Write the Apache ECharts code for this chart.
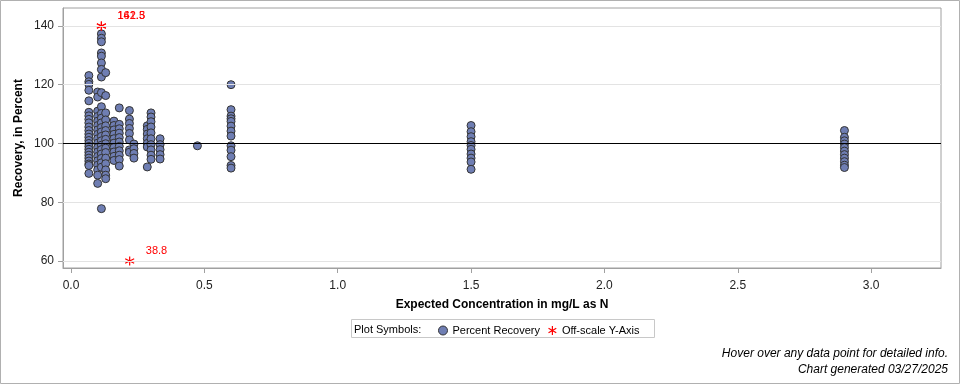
<!DOCTYPE html>
<html><head><meta charset="utf-8">
<script src="https://cdn.jsdelivr.net/npm/echarts@6/dist/echarts.min.js"></script>
<style>html,body{margin:0;padding:0;background:#fff}#c{width:960px;height:384px}</style>
</head><body><div id="c"></div>
<script>
// Expected concentrations (mg/L as N), one per column of points
const concentrations = [0.067, 0.1, 0.114, 0.13, 0.161, 0.181, 0.219, 0.236, 0.286, 0.3, 0.334, 0.474, 0.6, 1.5, 2.9];
const rec067 = [123.1, 121.0, 120.1, 118.1, 114.5, 110.6, 109.4, 108.2, 107.0, 105.6, 104.4, 103.2, 102.1, 101.0, 100.0, 99.0, 98.0, 97.0, 96.0, 95.0, 94.0, 93.0, 92.5, 89.8];
const rec100 = [117.5, 115.8, 111.0, 109.2, 107.6, 106.1, 104.6, 103.1, 101.6, 100.1, 98.6, 97.1, 95.6, 94.1, 92.6, 91.0, 89.2, 86.4];
const rec114 = [137.3, 135.8, 134.6, 130.8, 129.7, 127.4, 125.2, 122.6, 117.3, 112.5, 110.2, 108.6, 107.0, 105.4, 103.9, 102.4, 100.9, 99.4, 97.9, 96.4, 94.9, 93.4, 91.9, 77.8];
const rec130 = [124.1, 116.3, 110.4, 108.0, 106.0, 104.4, 102.9, 101.4, 99.9, 98.4, 96.9, 95.0, 93.1, 91.0, 89.2, 88.0];
const rec161 = [107.6, 106.1, 104.6, 103.1, 101.6, 100.1, 98.6, 97.1, 95.6, 94.2];
const rec181 = [112.1, 106.5, 105.0, 103.5, 102.0, 100.5, 99.0, 97.5, 96.0, 94.5, 92.3];
const rec219 = [111.2, 108.3, 106.8, 105.1, 103.4, 101.2, 97.8, 97.0];
const rec236 = [99.8, 98.2, 96.6, 95.0];
const rec286 = [106.0, 104.8, 103.2, 101.6, 100.0, 98.8, 92.0];
const rec300 = [110.4, 109.0, 107.4, 105.6, 103.6, 101.6, 99.6, 97.8, 96.0, 94.6];
const rec334 = [101.6, 99.6, 97.9, 96.2, 94.7];
const rec474 = [99.2];
const rec600 = [120.0, 111.5, 109.3, 108.4, 107.5, 105.9, 104.2, 102.5, 99.2, 97.7, 95.5, 92.5, 91.6];
const rec1500 = [106.1, 104.0, 102.3, 100.6, 99.3, 98.0, 96.4, 95.0, 93.7, 91.2];
const rec2900 = [104.4, 102.1, 100.9, 99.8, 98.6, 97.4, 96.2, 95.0, 93.8, 92.6, 91.8];
const recoveries = [rec067, rec100, rec114, rec130, rec161, rec181, rec219, rec236, rec286, rec300, rec334, rec474, rec600, rec1500, rec2900];

// Off-scale points: concentration, plotted position, actual value
const offX = [0.114, 0.114, 0.22];
const offPlotY = [140, 140, 60];
const offActual = ['142.3', '161.5', '38.8'];

const xTicks = [0, 0.5, 1.0, 1.5, 2.0, 2.5, 3.0];
const yTicks = [60, 80, 100, 120, 140];
const gridLineValues = [60, 80, 120, 140];
const referenceValue = 100;

const points = [];
concentrations.forEach((c, i) => recoveries[i].forEach(v => points.push([c, v])));
const offPoints = offX.map((x, i) => ({value: [x, offPlotY[i]], label: {formatter: offActual[i]}}));

const asterisk = 'path://M5,0L5,10M0.7,2.5L9.3,7.5M0.7,7.5L9.3,2.5';
const FONT = '"Liberation Sans", Arial, sans-serif';

const chart = echarts.init(document.getElementById('c'), null, {renderer: 'canvas'});
chart.setOption({
  animation: false,
  textStyle: {fontFamily: FONT},
  grid: {left: 63, right: 19, top: 8, bottom: 116, show: true, borderColor: '#a0a0a0', borderWidth: 1},
  xAxis: {
    type: 'value', min: -0.03, max: 3.262,
    name: 'Expected Concentration in mg/L as N', nameLocation: 'middle', nameGap: 31,
    nameTextStyle: {fontFamily: FONT, fontSize: 12, fontWeight: 'bold', color: '#000'},
    axisLine: {show: true, onZero: false, lineStyle: {color: '#a0a0a0'}},
    axisTick: {show: true, customValues: xTicks, length: 5, lineStyle: {color: '#a0a0a0'}},
    axisLabel: {customValues: xTicks, formatter: v => Number(v).toFixed(1), margin: 12, fontSize: 12, color: '#222', fontFamily: FONT},
    splitLine: {show: false}
  },
  yAxis: {
    type: 'value', min: 57.6, max: 146.1,
    name: 'Recovery, in Percent', nameLocation: 'middle', nameGap: 38, nameMoveOverlap: false,
    nameTextStyle: {fontFamily: FONT, fontSize: 12, fontWeight: 'bold', color: '#000'},
    axisLine: {show: true, onZero: false, lineStyle: {color: '#a0a0a0'}},
    axisTick: {show: true, customValues: yTicks, length: 5, lineStyle: {color: '#a0a0a0'}},
    axisLabel: {customValues: yTicks, margin: 9, fontSize: 12, color: '#222', fontFamily: FONT},
    splitLine: {show: false}
  },
  legend: {
    left: 438, top: 325, padding: 0, itemWidth: 9, itemHeight: 9, itemGap: 8,
    textStyle: {fontSize: 11, color: '#000', fontFamily: FONT},
    data: [
      {name: 'Percent Recovery', icon: 'circle', itemStyle: {color: '#6F7EB3', borderColor: '#333', borderWidth: 1}},
      {name: 'Off-scale Y-Axis', icon: asterisk, itemStyle: {color: 'rgba(0,0,0,0)', borderColor: '#ff0000', borderWidth: 1.2}}
    ]
  },
  series: [
    {
      type: 'scatter', name: 'refs', data: [], z: 1, silent: true,
      markLine: {
        silent: true, symbol: 'none', label: {show: false},
        data: gridLineValues.map(v => ({yAxis: v, lineStyle: {color: '#e3e3e3', width: 1, type: 'solid'}}))
          .concat([{yAxis: referenceValue, lineStyle: {color: '#000', width: 1, type: 'solid'}}])
      }
    },
    {
      type: 'scatter', name: 'Percent Recovery', data: points, z: 3,
      symbol: 'circle', symbolSize: 8,
      itemStyle: {color: '#6F7EB3', borderColor: '#333', borderWidth: 1, opacity: 1}
    },
    {
      type: 'scatter', name: 'Off-scale Y-Axis', data: offPoints, z: 4,
      symbol: asterisk, symbolSize: 9,
      itemStyle: {color: 'rgba(0,0,0,0)', borderColor: '#ff0000', borderWidth: 1.2, opacity: 1},
      label: {show: true, position: 'right', distance: 5, offset: [6, -10], color: '#ff0000', fontSize: 11, fontFamily: FONT}
    }
  ],
  graphic: [
    {type: 'rect', shape: {x: 0.5, y: 0.5, width: 959, height: 383}, style: {fill: 'none', stroke: '#b0b0b0', lineWidth: 1}, silent: true},
    {type: 'rect', shape: {x: 351.5, y: 319.5, width: 303, height: 18}, style: {fill: 'none', stroke: '#c8c8c8', lineWidth: 1}, silent: true},
    {type: 'text', left: 354, top: 324, style: {text: 'Plot Symbols:', font: '11px "Liberation Sans", Arial, sans-serif', fill: '#000'}},
    {type: 'text', right: 12, top: 348, style: {text: 'Hover over any data point for detailed info.', font: 'italic 12px "Liberation Sans", Arial, sans-serif', fill: '#000', textAlign: 'right'}},
    {type: 'text', right: 12, top: 364, style: {text: 'Chart generated 03/27/2025', font: 'italic 12px "Liberation Sans", Arial, sans-serif', fill: '#000', textAlign: 'right'}}
  ]
});
</script></body></html>
